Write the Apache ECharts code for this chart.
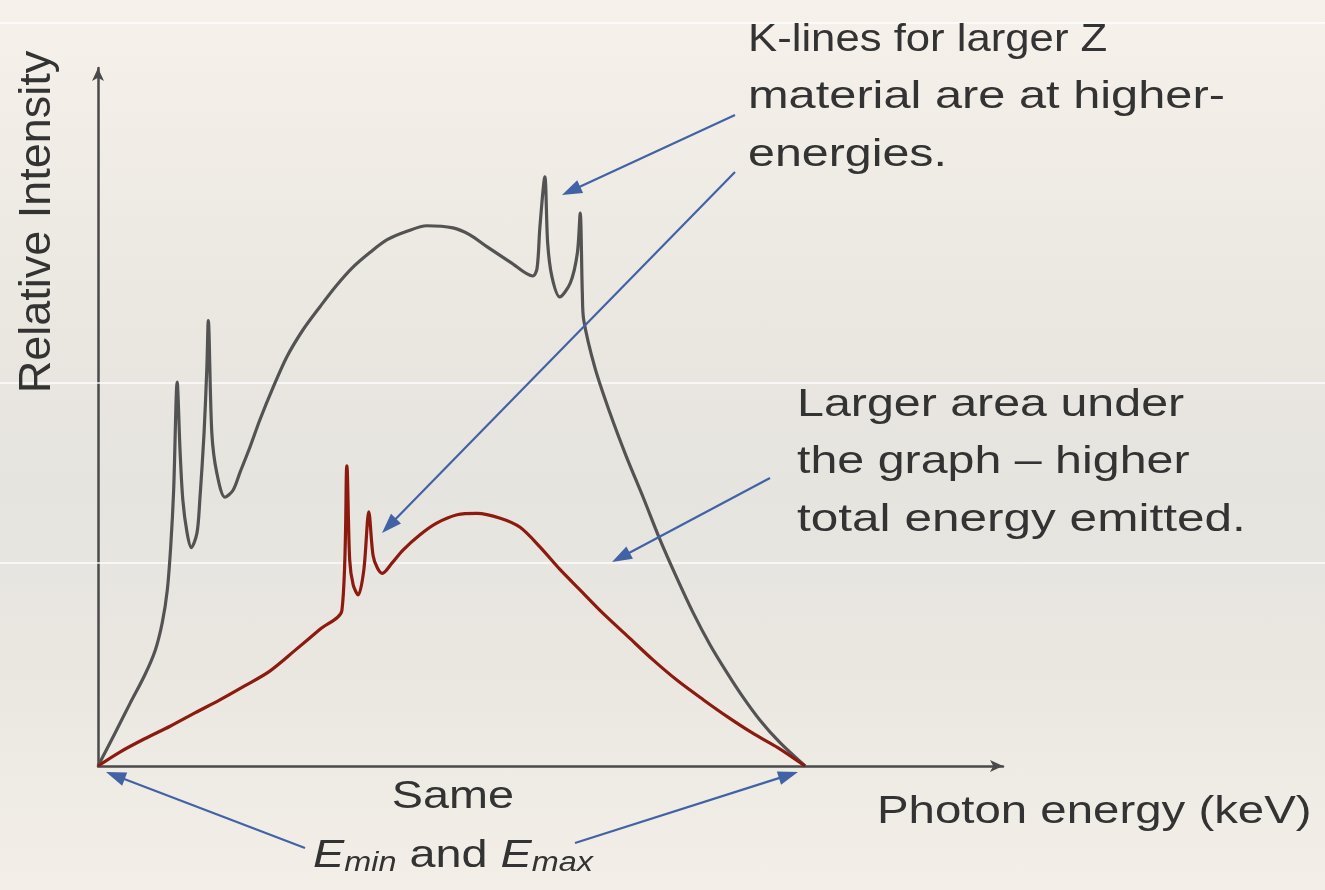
<!DOCTYPE html>
<html>
<head>
<meta charset="utf-8">
<script src="https://cdn.jsdelivr.net/npm/echarts@6/dist/echarts.min.js"></script>
<style>
html,body{margin:0;padding:0;}
body{width:1325px;height:890px;background:linear-gradient(180deg,#f6f1eb 0%,#ece8e2 30%,#e6e4df 55%,#eae7e1 75%,#f3efe8 100%);}
#c{width:1325px;height:890px;}
</style>
</head>
<body>
<div id="c"></div>
<script>
// Higher-Z target spectrum (gray)
const grayEnergy = [0, 2.4, 4.5, 6.6, 8.1, 9.1, 9.8, 10.3, 10.7, 11.2, 11.6, 12.0, 12.6, 13.2, 14.0, 14.4, 15.0, 15.4, 15.6, 16.1, 16.8, 17.96, 19.1, 20.1, 21.5, 22.9, 24.75, 26.7, 29.0, 31.4, 33.7, 36.1, 38.5, 40.9, 43.7, 46.5, 50.2, 52.6, 55.0, 58.3, 61.5, 62.1, 62.5, 63.2, 63.6, 64.2, 65.3, 66.8, 67.8, 68.2, 68.5, 68.7, 70.3, 72.4, 74.7, 77.1, 79.5, 81.8, 84.2, 86.6, 89.0, 91.2, 93.6, 96.5, 100];
const grayIntensity = [0, 4.7, 8.9, 13.0, 16.6, 20.6, 25.2, 31.7, 39.5, 55.0, 45.3, 38.1, 33.4, 31.3, 33.4, 38.1, 47.7, 57.2, 63.8, 47.7, 42.0, 38.5, 39.5, 42.1, 45.7, 49.6, 54.2, 58.6, 62.5, 65.8, 68.8, 71.5, 73.6, 75.4, 76.6, 77.4, 77.1, 76.1, 74.4, 72.2, 70.2, 71.3, 77.2, 84.4, 74.9, 70.1, 67.2, 69.2, 73.5, 79.2, 67.8, 63.9, 57.0, 50.6, 44.4, 38.5, 32.4, 27.1, 21.9, 17.3, 13.3, 9.9, 6.6, 3.3, 0];
// Lower-Z target spectrum (red)
const redEnergy = [0, 3.1, 6.6, 10.2, 13.7, 17.3, 20.8, 24.3, 27.9, 31.4, 34.5, 35.2, 35.6, 36.1, 36.8, 37.6, 38.3, 38.9, 39.5, 40.2, 41.6, 43.1, 45.5, 47.9, 50.8, 53.6, 56.9, 59.7, 62.5, 65.3, 68.2, 71.4, 75.0, 78.5, 82.0, 85.6, 89.1, 92.6, 96.2, 100];
const redIntensity = [0, 2.0, 3.9, 5.7, 7.6, 9.5, 11.5, 13.6, 16.6, 19.6, 22.3, 43.0, 29.5, 25.9, 24.5, 28.1, 36.4, 30.2, 28.4, 27.6, 29.1, 30.9, 33.1, 34.8, 36.0, 36.2, 35.5, 34.2, 31.4, 28.2, 25.2, 21.9, 18.5, 15.2, 12.2, 9.5, 7.0, 4.7, 2.6, 0];

const yLabel = 'Relative Intensity';
const xLabel = 'Photon energy (keV)';
const noteK = ['K-lines for larger Z', 'material are at higher-', 'energies.'];
const noteArea = ['Larger area under', 'the graph \u2013 higher', 'total energy emitted.'];

const grayData = grayEnergy.map((x, i) => [x, grayIntensity[i]]);
const redData = redEnergy.map((x, i) => [x, redIntensity[i]]);

const TXT = '#333333';
const BLUE = '#4262a6';
const FONT = '"Liberation Sans", Arial, Helvetica, sans-serif';

function arrow(x1, y1, x2, y2) {
  const dx = x2 - x1, dy = y2 - y1, L = Math.hypot(dx, dy);
  const ux = dx / L, uy = dy / L, hl = 20, hw = 7;
  const bx = x2 - ux * hl, by = y2 - uy * hl;
  return [
    {type: 'line', shape: {x1: x1, y1: y1, x2: bx + ux * 4, y2: by + uy * 4}, style: {stroke: BLUE, lineWidth: 2.2}, z: 20},
    {type: 'polygon', shape: {points: [[x2, y2], [bx - uy * hw, by + ux * hw], [bx + uy * hw, by - ux * hw]]}, style: {fill: BLUE}, z: 20}
  ];
}

function textEl(str, x, y, sx, opts) {
  return {
    type: 'text', x: x, y: y, scaleX: sx, z: 30,
    style: Object.assign({text: str, font: '39px ' + FONT, fill: TXT, textAlign: 'left', textVerticalAlign: 'middle'}, opts || {})
  };
}

const graphics = [];
// faint scan-line artifacts of the source picture
[23, 383, 563].forEach(y => graphics.push({type: 'line', shape: {x1: 0, y1: y, x2: 1325, y2: y}, style: {stroke: '#ffffff', lineWidth: 1.5, opacity: 0.9}, z: 1}));

const kScale = [1.12, 1.25, 1.24];
noteK.forEach((t, i) => graphics.push(textEl(t, 748, 40 + i * 57.5, kScale[i])));
const aScale = [1.24, 1.24, 1.27];
noteArea.forEach((t, i) => graphics.push(textEl(t, 797, 405 + i * 57.5, aScale[i])));
graphics.push(textEl(xLabel, 877, 812, 1.215));
graphics.push(textEl('Same', 453, 797, 1.2, {textAlign: 'center'}));
graphics.push({
  type: 'text', x: 453, y: 856, scaleX: 1.2, z: 30,
  style: {
    text: '{E|E}{s|min}{n| and }{E|E}{s|max}',
    textAlign: 'center', textVerticalAlign: 'middle', fill: TXT,
    rich: {
      E: {font: 'italic 39px ' + FONT, fill: TXT},
      n: {font: '39px ' + FONT, fill: TXT},
      s: {font: 'italic 27px ' + FONT, fill: TXT, padding: [14, 0, 0, 0]}
    }
  }
});
graphics.push({
  type: 'text', x: 38, y: 222, rotation: Math.PI / 2, z: 30,
  style: {text: yLabel, font: '45px ' + FONT, fill: TXT, textAlign: 'center', textVerticalAlign: 'middle'}
});
graphics.push(...arrow(735, 115, 562, 195));
graphics.push(...arrow(735, 172, 382, 533));
graphics.push(...arrow(770, 478, 612, 562));
graphics.push(...arrow(305, 848, 106, 772));
graphics.push(...arrow(575, 843, 798, 772));

const chart = echarts.init(document.getElementById('c'), null, {renderer: 'canvas'});
chart.setOption({
  backgroundColor: 'transparent',
  animation: false,
  grid: {left: 98, top: 68, right: 322, bottom: 124},
  xAxis: {
    type: 'value', min: 0, max: 128,
    axisLine: {show: true, lineStyle: {color: '#4a4a4a', width: 2.5}, symbol: ['none', 'arrow'], symbolSize: [9, 13]},
    axisTick: {show: false}, axisLabel: {show: false}, splitLine: {show: false}
  },
  yAxis: {
    type: 'value', min: 0, max: 100,
    axisLine: {show: true, lineStyle: {color: '#4a4a4a', width: 2.5}, symbol: ['none', 'arrow'], symbolSize: [9, 13]},
    axisTick: {show: false}, axisLabel: {show: false}, splitLine: {show: false}
  },
  series: [
    {type: 'line', data: grayData, showSymbol: false, smooth: 0.3,
     lineStyle: {color: '#535353', width: 3.2, join: 'round'}, z: 5, clip: false},
    {type: 'line', data: redData, showSymbol: false, smooth: 0.3,
     lineStyle: {color: '#8c1a0f', width: 3.2, join: 'round'}, z: 6, clip: false}
  ],
  graphic: graphics
});
</script>
</body>
</html>
